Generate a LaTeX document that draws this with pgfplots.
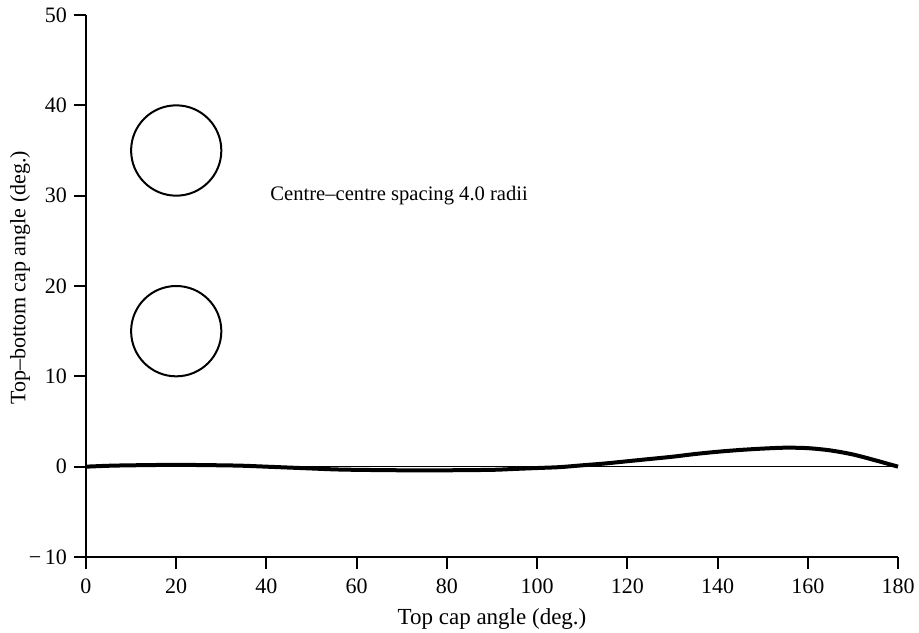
\documentclass[border=0pt]{standalone}
\usepackage{pgfplots}
\pgfplotsset{compat=1.18}
\usepackage{fontspec}
\setmainfont{Liberation Serif}
\begin{document}
\begin{tikzpicture}
\begin{axis}[
  scale only axis,
  width=406pt, height=271pt,
  xmin=0, xmax=180, ymin=-10, ymax=50,
  axis lines*=left,
  axis line style={line width=1pt},
  tick align=outside,
  major tick length=6pt,
  tick style={line width=1pt, black},
  xtick={0,20,...,180},
  ytick={-10,0,10,20,30,40,50},
  yticklabels={−\,10,0,10,20,30,40,50},
  /pgf/number format/assume math mode=true,
  tick label style={font=\fontsize{11pt}{13pt}\selectfont},
  xticklabel style={yshift=-1.5pt},
  xlabel={Top cap angle (deg.)},
  ylabel={Top–bottom cap angle (deg.)},
  xlabel style={font=\fontsize{11.5pt}{13pt}\selectfont, at={(axis description cs:0.5,0)}, anchor=center, yshift=-31pt},
  ylabel style={font=\fontsize{11pt}{13pt}\selectfont, at={([xshift=-33pt]axis description cs:0,0.515)}, anchor=center},
  clip=false,
]
\addplot[black, line width=0.8pt] coordinates {(0,0) (180,0)};
\addplot[black, line width=2pt, smooth, tension=0.5] coordinates {
(0,0) (5,0.1) (10,0.15) (20,0.2) (30,0.15) (35,0.1) (40,0) (45,-0.1) (50,-0.2) (55,-0.3) (60,-0.35) (70,-0.4) (80,-0.4) (90,-0.35) (95,-0.25) (100,-0.15) (105,-0.05) (110,0.15) (115,0.35) (120,0.6) (125,0.85) (130,1.1) (135,1.4) (140,1.65) (145,1.85) (150,2.0) (155,2.1) (160,2.05) (165,1.8) (170,1.35) (175,0.7) (180,0)
};
\draw[black, line width=1pt] (axis cs:20,35) ellipse [x radius=10, y radius=5];
\draw[black, line width=1pt] (axis cs:20,15) ellipse [x radius=10, y radius=5];
\node[anchor=west, inner sep=0pt, font=\fontsize{10.3pt}{12pt}\selectfont] at (axis cs:40.8,30) {Centre–centre spacing 4.0 radii};
\coordinate (sw) at (rel axis cs:0,0);
\coordinate (ne) at (rel axis cs:1,1);
\end{axis}
\pgfresetboundingbox
\path ([shift={(-43pt,-37.5pt)}]sw) rectangle ([shift={(10.5pt,7.5pt)}]ne);
\end{tikzpicture}
\end{document}
